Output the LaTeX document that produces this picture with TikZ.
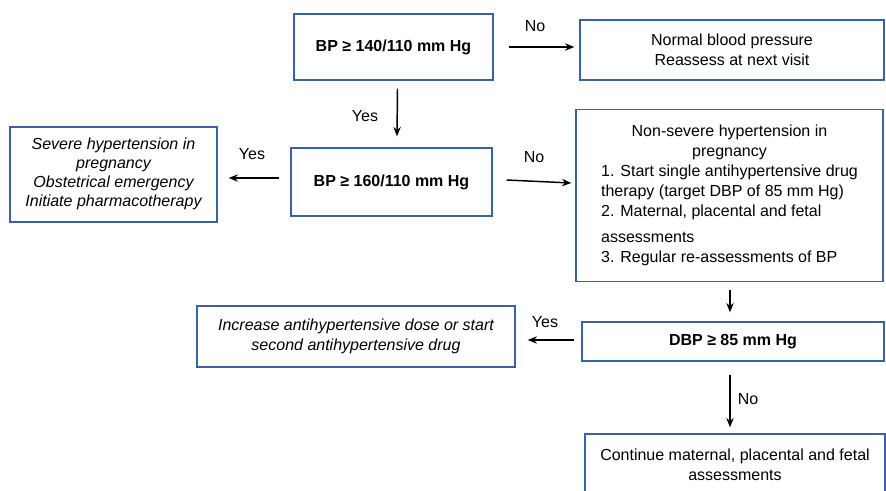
\documentclass[tikz,border=0pt]{standalone}
\usepackage{fontspec}
\setmainfont{Liberation Sans}
\usetikzlibrary{arrows.meta,calc}
\definecolor{boxblue}{RGB}{60,96,165}
\newdimen\pxu
\pxu=0.75pt
\begin{document}
\begin{tikzpicture}[x=0.75pt,y=-0.75pt,
  box/.style={draw=boxblue,line width=1pt,inner sep=0pt,align=center,font=\fontsize{12}{15}\selectfont},
  arr/.style={-{Stealth[length=7pt,width=5.5pt]},line width=1.1pt},
  lbl/.style={font=\fontsize{12}{15}\selectfont,inner sep=0pt}]
\useasboundingbox (0,0) rectangle (886,490);
% boxes
\node[box,font=\fontsize{12}{15}\selectfont\bfseries,minimum width=199\pxu,minimum height=66\pxu] (b1) at (393.5,47) {BP ≥ 140/110 mm Hg};
\node[box,minimum width=304\pxu,minimum height=60\pxu] (b2) at (732,50) {Normal blood pressure\\Reassess at next visit};
\node[box,font=\fontsize{12}{15}\selectfont\bfseries,minimum width=201\pxu,minimum height=68\pxu] (b3) at (391.5,182) {BP ≥ 160/110 mm Hg};
\node[box,font=\fontsize{12}{14.25}\selectfont\itshape,minimum width=207\pxu,minimum height=95\pxu] (b4) at (113.5,174.5) {\raisebox{-2\pxu}{\begin{tabular}{@{}c@{}}Severe hypertension in\\pregnancy\\Obstetrical emergency\\Initiate pharmacotherapy\end{tabular}}};
\node[box,minimum width=307\pxu,minimum height=172\pxu] (b5) at (729.5,195.5) {\begin{tabular}{@{}l@{}}
\multicolumn{1}{@{}c@{}}{Non-severe hypertension in}\\
\multicolumn{1}{@{}c@{}}{pregnancy}\\
1. Start single antihypertensive drug\\
therapy (target DBP of 85 mm Hg)\\
2. Maternal, placental and fetal\\[5pt]
assessments\\
3. Regular re-assessments of BP
\end{tabular}};
\node[box,font=\fontsize{12}{15}\selectfont\bfseries,minimum width=302\pxu,minimum height=39\pxu] (b6) at (733,341.5) {DBP ≥ 85 mm Hg};
\node[box,font=\fontsize{12}{15}\selectfont\itshape,minimum width=318\pxu,minimum height=61\pxu] (b7) at (356,336.5) {Increase antihypertensive dose or start\\second antihypertensive drug};
\node[box,minimum width=300\pxu,minimum height=82\pxu] (b8) at (735,475) {Continue maternal, placental and fetal\\assessments\\\mbox{}};
% connectors
\draw[arr] ($(b1.east)+(15,0)$) -- ($(b1.east -| b2.west)+(-5,0)$);
\draw[arr] ($(b1.south)+(4,8)$) -- ($(b3.north)+(5.5,-11)$);
\draw[arr] ($(b3.west)+(-11,-4)$) -- ($(b4.east)+(11,3.5)$);
\draw[arr] ($(b3.east)+(14,-2)$) -- ($(b5.west)+(-4,-12.5)$);
\draw[arr] ($(b5.south)+(0.5,7.5)$) -- ($(b6.north)+(-3,-9)$);
\draw[arr] ($(b6.west)+(-7,-1.5)$) -- ($(b7.east)+(12,3.5)$);
\draw[arr] ($(b6.south)+(-3,13)$) -- ($(b8.north)+(-5,-6)$);
% labels
\node[lbl] (l1) at (535,26) {No};
\node[lbl] (l2) at (365,116) {Yes};
\node[lbl] (l3) at (252,154) {Yes};
\node[lbl] (l4) at (534,157) {No};
\node[lbl] (l5) at (545,322) {Yes};
\node[lbl] (l6) at (748,399) {No};
\end{tikzpicture}
\end{document}
